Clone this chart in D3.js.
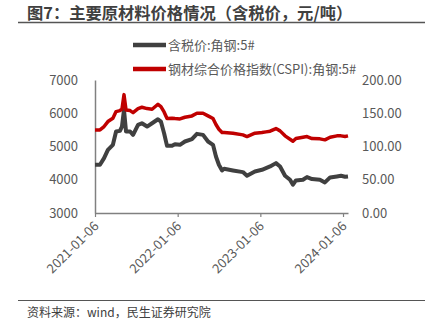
<!DOCTYPE html>
<html>
<head>
<meta charset="utf-8">
<script src="https://cdn.jsdelivr.net/npm/d3@7"></script>
<style>
  html, body { margin: 0; padding: 0; background: #fff; }
  svg { display: block; }
  text { font-family: "Noto Sans CJK SC", "Open Sans", sans-serif; }
</style>
</head>
<body>
<svg id="chart" width="434" height="332"></svg>
<script>
// Weekly samples of the two series
const dates = [
  "2021-01-06","2021-01-28","2021-02-15","2021-03-04","2021-03-26","2021-04-09","2021-04-26","2021-05-05",
  "2021-05-14","2021-05-23","2021-06-10","2021-06-23","2021-07-15","2021-08-01","2021-08-24","2021-09-15",
  "2021-10-11","2021-10-24","2021-11-07","2021-11-20","2021-12-12","2021-12-25","2022-01-16","2022-02-07",
  "2022-03-10","2022-04-01","2022-04-28","2022-05-20","2022-06-11","2022-06-24","2022-07-07","2022-07-21",
  "2022-07-30","2022-09-07","2022-10-21","2022-11-08","2022-12-13","2023-01-13","2023-01-31","2023-02-18",
  "2023-03-16","2023-04-03","2023-04-25","2023-05-17","2023-05-30","2023-06-12","2023-07-13","2023-07-31",
  "2023-08-22","2023-09-26","2023-10-18","2023-11-10","2023-12-10","2023-12-28","2024-01-15","2024-01-28"
];
// 含税价:角钢:5# (元/吨, left axis)
const priceValues = [
  4450,4450,4650,4900,5050,5450,5470,5600,
  6100,5450,5450,5350,5650,5700,5600,5700,
  5820,5750,5400,5020,5020,5070,5050,5150,
  5220,5380,5350,5150,5050,4700,4450,4280,
  4330,4280,4230,4120,4250,4300,4350,4400,
  4500,4400,4120,4000,3850,3980,4000,4080,
  4020,4000,3920,4070,4100,4120,4090,4100
];
// 钢材综合价格指数(CSPI):角钢:5# (right axis)
const indexValues = [
  125,125,130,137.5,142.5,152.5,154,156,
  178,155,154,151,157,159,157,156,
  163.5,160,152,142,142.5,142,141.5,144,
  146,150,150,146,142,133,126,121,
  121,120,117.5,115,120,121,122,123,
  127,123.5,116,111,108,112,114,115,
  112,111.5,110,114,116,116,115,116
];
const leftTicks = [3000, 4000, 5000, 6000, 7000];
const rightTicks = [0, 50, 100, 150, 200];
const xTickLabels = ["2021-01-06", "2022-01-06", "2023-01-06", "2024-01-06"];
const seriesNames = ["含税价:角钢:5#", "钢材综合价格指数(CSPI):角钢:5#"];
const titleText = "图7：主要原材料价格情况（含税价，元/吨）";
const sourceText = "资料来源：wind，民生证券研究院";

const parse = d3.timeParse("%Y-%m-%d");
const rows = dates.map((d, i) => ({ date: parse(d), price: priceValues[i], index: indexValues[i] }));

const svg = d3.select("#chart");
const axisColor = "#808080";
const textColor = "#595959";

const x = d3.scaleTime().domain([parse("2021-01-06"), parse("2024-01-28")]).range([95, 348]);
const yL = d3.scaleLinear().domain([3000, 7000]).range([213, 80]);
const yR = d3.scaleLinear().domain([0, 200]).range([213, 80]);

// Title and rules
svg.append("text").attr("x", 27).attr("y", 19)
  .attr("font-size", 16.3).attr("font-weight", "bold").attr("fill", "#404040")
  .text(titleText);
svg.append("line").attr("x1", 18).attr("x2", 425).attr("y1", 22.5).attr("y2", 22.5)
  .attr("stroke", "#555").attr("stroke-width", 1.5);
svg.append("line").attr("x1", 18).attr("x2", 425).attr("y1", 300.5).attr("y2", 300.5)
  .attr("stroke", "#555").attr("stroke-width", 1.2);
svg.append("text").attr("x", 27).attr("y", 317)
  .attr("font-size", 12).attr("fill", "#404040").text(sourceText);

// Legend
const colors = ["#404040", "#c00000"];
const legendY = [45, 69];
seriesNames.forEach((name, i) => {
  svg.append("line").attr("x1", 133).attr("x2", 166).attr("y1", legendY[i]).attr("y2", legendY[i])
    .attr("stroke", colors[i]).attr("stroke-width", 4.5);
  svg.append("text").attr("x", 168).attr("y", legendY[i] + 4.5)
    .attr("font-size", 13).attr("fill", textColor).text(name);
});

// Left axis
const gL = svg.append("g").attr("transform", "translate(95,0)")
  .call(d3.axisLeft(yL).tickValues(leftTicks).tickSize(0).tickPadding(17).tickFormat(d3.format("d")));
gL.select(".domain").attr("stroke", axisColor).attr("stroke-width", 1.5);
gL.selectAll("text").attr("font-size", 13).attr("fill", textColor)
  .style("font-family", '"Noto Sans CJK SC", sans-serif');

// Right axis (labels only)
const gR = svg.append("g").attr("transform", "translate(348,0)")
  .call(d3.axisRight(yR).tickValues(rightTicks).tickSize(0).tickPadding(14).tickFormat(d3.format(".2f")));
gR.select(".domain").remove();
gR.selectAll("text").attr("font-size", 13).attr("fill", textColor)
  .style("font-family", '"Noto Sans CJK SC", sans-serif');

// Bottom axis
const xTicks = xTickLabels.map(parse);
const gX = svg.append("g").attr("transform", "translate(0,213)")
  .call(d3.axisBottom(x).tickValues(xTicks).tickSize(4).tickSizeOuter(0).tickFormat(d3.timeFormat("%Y-%m-%d")));
gX.select(".domain").attr("stroke", axisColor).attr("stroke-width", 1.5);
gX.selectAll(".tick line").attr("stroke", axisColor).attr("stroke-width", 1.2);
gX.selectAll("text").attr("font-size", 13).attr("fill", textColor)
  .style("font-family", '"Noto Sans CJK SC", sans-serif')
  .attr("text-anchor", "end").attr("dy", null).attr("y", null)
  .attr("transform", "translate(4,14) rotate(-45)");

// Series lines
const lineL = d3.line().x(d => x(d.date)).y(d => yL(d.price)).curve(d3.curveLinear);
const lineR = d3.line().x(d => x(d.date)).y(d => yR(d.index)).curve(d3.curveLinear);
svg.append("path").datum(rows).attr("d", lineL).attr("fill", "none")
  .attr("stroke", colors[0]).attr("stroke-width", 4).attr("stroke-linejoin", "round");
svg.append("path").datum(rows).attr("d", lineR).attr("fill", "none")
  .attr("stroke", colors[1]).attr("stroke-width", 3.5).attr("stroke-linejoin", "round");
</script>
</body>
</html>
